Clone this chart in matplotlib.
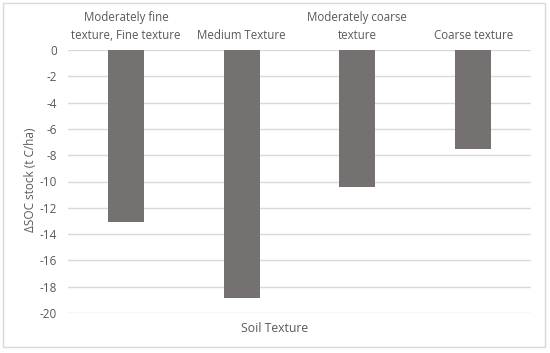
import matplotlib.pyplot as plt
import matplotlib.patches as mpatches
import numpy as np

categories = ['Moderately fine\ntexture, Fine texture', 'Medium Texture',
              'Moderately coarse\ntexture', 'Coarse texture']
values = [-13.06, -18.83, -10.39, -7.53]
yticks = np.arange(-20, 1, 2)

plt.rcParams['font.family'] = ['Open Sans', 'DejaVu Sans']
txt = '#595959'

fig = plt.figure(figsize=(5.5, 3.53), dpi=100)
ax = fig.add_axes([68 / 550, 1 - 313 / 353, (531 - 68) / 550, (313 - 50) / 353])

x = np.arange(len(categories))
ax.bar(x, values, width=0.31, color='#767171', zorder=3)

ax.set_xlim(-0.5, 3.5)
ax.set_ylim(-20, 0)
ax.set_yticks(yticks)
ax.set_yticklabels([str(v) for v in yticks])
ax.yaxis.grid(True, color='#d9d9d9', linewidth=1, zorder=0)
ax.tick_params(axis='y', length=0, labelsize=8.5, labelcolor=txt, pad=8)

ax.xaxis.tick_top()
ax.set_xticks(x)
ax.set_xticklabels(categories, fontsize=8.3, color=txt, linespacing=1.45)
ax.tick_params(axis='x', length=0, pad=6)

for s in ax.spines.values():
    s.set_visible(False)

fig.text(30 / 550, 1 - 180 / 353, 'ΔSOC stock (t C/ha)', rotation=90, ha='center', va='center',
         fontsize=8.5, color=txt)
fig.text(0.5, 1 - 328 / 353, 'Soil Texture', ha='center', va='center', fontsize=8.8, color=txt)

fig.patches.append(mpatches.Rectangle((3 / 550, 6 / 353), 542 / 550, 344 / 353,
                                      transform=fig.transFigure, fill=False,
                                      edgecolor='#d9d9d9', linewidth=1))

fig.savefig('out.png', dpi=100)
